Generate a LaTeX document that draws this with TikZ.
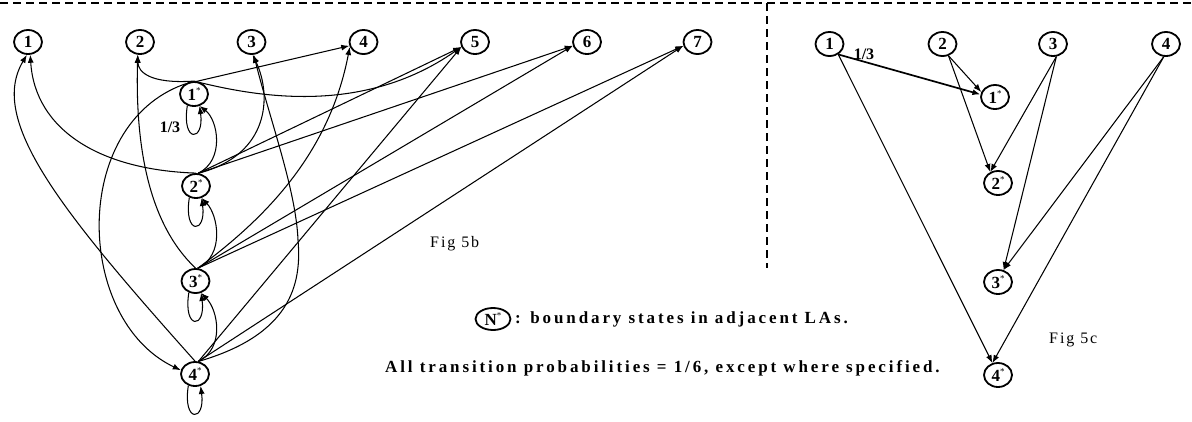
\documentclass[tikz,border=0pt]{standalone}
\usepackage{fontspec}
\setmainfont{Liberation Serif}
\newfontfamily\spaced[LetterSpace=17]{Liberation Serif}
\newfontfamily\figfont[LetterSpace=12]{Liberation Serif}
\usetikzlibrary{arrows.meta,shapes.geometric}
\newcommand\sr{\raisebox{0.45em}{\fontsize{9}{9}\selectfont\mdseries *}}
\begin{document}
\begin{tikzpicture}[x=1pt,y=-1pt,
  st/.style={ellipse, draw, line width=1.8pt, inner sep=0pt, minimum width=28pt, minimum height=24pt, font=\fontsize{17}{17}\selectfont\bfseries},
  ed/.style={line width=1.05pt, -{Latex[length=8pt,width=6pt]}},
  frame/.style={line width=2.6pt, dash pattern=on 8pt off 5pt},
  lbl/.style={font=\fontsize{16}{16}\selectfont\bfseries, inner sep=0pt},
  note/.style={font=\spaced\bfseries\fontsize{17}{17}\selectfont, inner sep=0pt, anchor=base west},
  fig/.style={font=\figfont\fontsize{16}{16}\selectfont, inner sep=0pt, anchor=base west}]
\useasboundingbox (0,0) rectangle (1192,421);
% frame
\draw[frame] (0,3) -- (1192,3);
\draw[frame, line width=2.2pt] (767,3) -- (767,268);
% left graph nodes
\node[st] (T1) at (28,42) {1};
\node[st] (T2) at (140,42) {2};
\node[st] (T3) at (251.5,42) {3};
\node[st] (T4) at (363.5,42) {4};
\node[st] (T5) at (475,42) {5};
\node[st] (T6) at (587,42) {6};
\node[st] (T7) at (697.5,42) {7};
\node[st] (B1) at (194,94) {1\sr};
\node[st] (B2) at (196,186) {2\sr};
\node[st] (B3) at (195.5,281) {3\sr};
\node[st] (B4) at (195,374) {4\sr};
% B1
\draw[ed] (B1.north) .. controls (150,84) and (138,72) .. (T2.-100);
\draw[ed] (B1.north) .. controls (250,95) and (360,118) .. (T5.200);
\draw[ed] (B1.135) -- (T4.195);
\draw[ed] (B1.135) .. controls (70,125) and (75,320) .. (B4.165);
\draw[ed] (B1.-120) .. controls +(-6,38) and +(5,36) .. (B1.-65);
\node[lbl] (L13) at (170,127) {1/3};
% B2
\draw[ed] (B2.north) .. controls (100,170) and (35,130) .. (T1.-80);
\draw[ed] (B2.80) .. controls (270,155) and (272,95) .. (T3.-85);
\draw[ed] (B2.80) -- (T5.200);
\draw[ed] (B2.80) -- (T6.195);
\draw[ed] (B2.80) .. controls (225,160) and (218,120) .. (B1.-65);
\draw[ed] (B2.-120) .. controls +(-6,38) and +(5,36) .. (B2.-65);
% B3
\draw[ed] (B3.north) .. controls (150,225) and (135,150) .. (T2.-100);
\draw[ed] (B3.80) .. controls (270,215) and (330,150) .. (T4.200);
\draw[ed] (B3.80) -- (T6.195);
\draw[ed] (B3.80) -- (T7.195);
\draw[ed] (B3.80) .. controls (225,255) and (218,215) .. (B2.-65);
\draw[ed] (B3.-120) .. controls +(-6,38) and +(5,36) .. (B3.-65);
% B4
\draw[ed] (B4.north) .. controls (60,210) and (-12,120) .. (T1.-95);
\draw[ed] (B4.75) .. controls (290,335) and (302,285) .. (298,240) .. controls (296,190) and (270,120) .. (T3.-80);
\draw[ed] (B4.75) -- (T5.200);
\draw[ed] (B4.75) -- (T7.195);
\draw[ed] (B4.75) .. controls (225,348) and (218,310) .. (B3.-65);
\draw[ed] (B4.-120) .. controls +(-6,38) and +(5,36) .. (B4.-65);
% labels
\node[fig] (F5b) at (430,247) {Fig 5b};
\node[st, minimum width=35pt, minimum height=22pt] (N) at (493,319) {N\sr};
\node[note] (Lg1) at (515,323) {: boundary states in adjacent LAs.};
\node[note] (Lg2) at (385,372) {All transition probabilities = 1/6, except where specified.};
% right graph
\node[st] (R1) at (829.5,44) {1};
\node[st] (R2) at (942.5,44) {2};
\node[st] (R3) at (1053,44) {3};
\node[st] (R4) at (1166,44) {4};
\node[st] (RB1) at (995,97) {1\sr};
\node[st] (RB2) at (998,183) {2\sr};
\node[st] (RB3) at (998,282) {3\sr};
\node[st] (RB4) at (998,375) {4\sr};
\draw[ed, line width=1.7pt] (R1.-50) -- (RB1.170);
\node[lbl] (L13r) at (864,54) {1/3};
\draw[ed] (R1.-50) -- (RB4.115);
\draw[ed] (R2.-63) -- (RB1.160);
\draw[ed] (R2.-63) -- (RB2.125);
\draw[ed] (R3.-75) -- (RB2.125);
\draw[ed] (R3.-75) -- (RB3.65);
\draw[ed] (R4.-100) -- (RB3.65);
\draw[ed] (R4.-100) -- (RB4.115);
\node[fig] (F5c) at (1049,343) {Fig 5c};
\end{tikzpicture}
\end{document}
